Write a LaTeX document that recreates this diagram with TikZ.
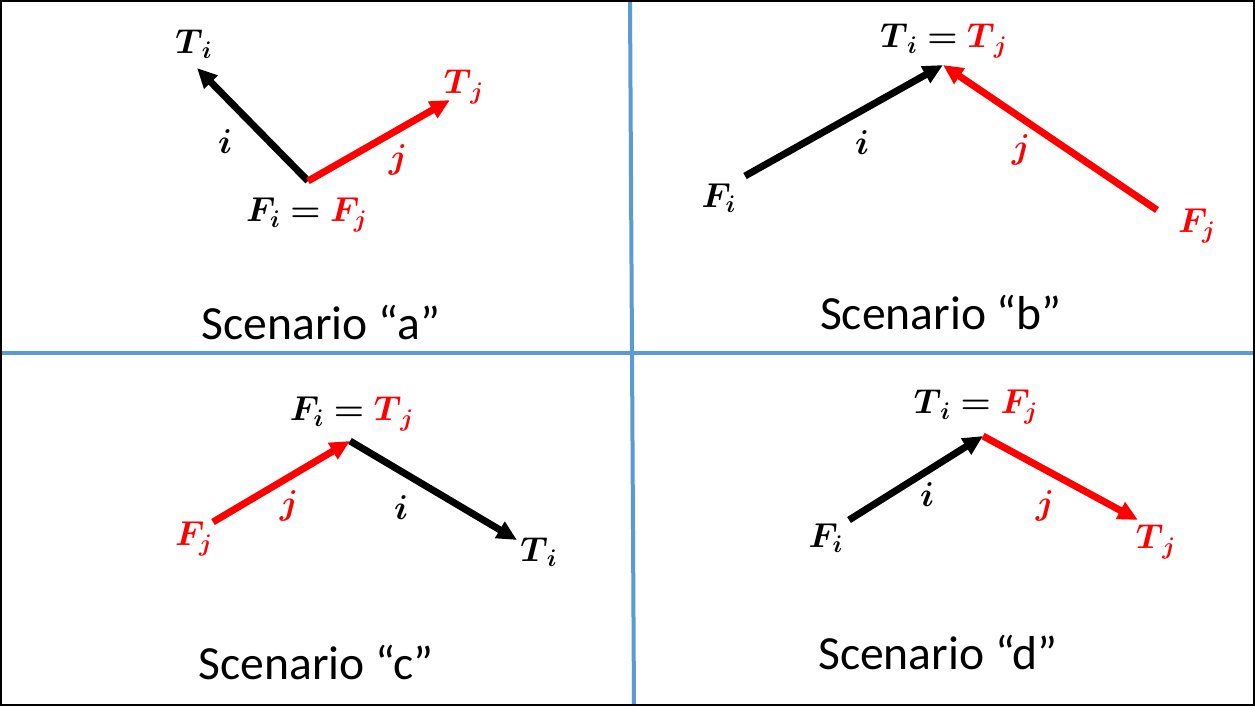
\documentclass[tikz,border=0pt]{standalone}
\usepackage{amsmath}
\usepackage{bm}
\usepackage{fontspec}
\setmainfont{Carlito}
\DeclareMathSizes{17}{17}{12.5}{10}
\usetikzlibrary{arrows.meta}
\definecolor{divblue}{RGB}{91,155,213}
\definecolor{vred}{RGB}{255,0,0}
\tikzset{
  vec/.style={line width=3.5pt, -{Triangle[length=10pt,width=9pt]}},
  blk/.style={vec, black},
  rd/.style={vec, vred},
  mlab/.style={font=\fontsize{17}{19}\selectfont, inner sep=0pt},
  scen/.style={font=\fontsize{23.8}{27}\selectfont, inner sep=0pt},
  divider/.style={divblue, line width=2pt}
}
\begin{document}
\begin{tikzpicture}[x=0.5pt,y=-0.5pt]
\useasboundingbox (0,0) rectangle (1255,706);
\fill[white] (0,0) rectangle (1255,706);
% frame and dividers
\coordinate (vt) at (630,0);
\coordinate (vb) at (634,706);
\coordinate (hl) at (2,353);
\coordinate (hr) at (1253,353);
\draw[divider] (vt) -- (vb);
\draw[divider] (hl) -- (hr);
\draw[black, line width=1pt] (1,1) rectangle (1254,705);

% Scenario a
\coordinate (aF) at (308,181);
\coordinate (aTi) at (197,68);
\coordinate (aTj) at (450,100);
\draw[blk] (aF) -- (aTi);
\draw[rd] (aF) -- (aTj);
\node[mlab] (aTiL) at (194,44) {$\bm{T_{\,i}}$};
\node[mlab] (aTjL) at (464,87) {\color{vred}$\bm{T_{\,j}}$};
\node[mlab] (ai) at (225,142) {$\bm{i}$};
\node[mlab] (aj) at (398,160) {\color{vred}$\bm{j}$};
\node[mlab] (aFL) at (307,215) {$\bm{F_i} \bm{=} \color{vred}\bm{F_j}$};
\node[scen] (sa) at (321,323) {Scenario “a”};

% Scenario b
\coordinate (bFi) at (745,176);
\coordinate (bT) at (943,65);
\coordinate (bFj) at (1157,210);
\draw[blk] (bFi) -- (bT);
\draw[rd] (bFj) -- (bT);
\node[mlab] (bTL) at (944,41) {$\bm{T_{\,i}} \bm{=} \color{vred}\bm{T_{\,j}}$};
\node[mlab] (bFiL) at (719,198) {$\bm{F_i}$};
\node[mlab] (bFjL) at (1197,226) {\color{vred}$\bm{F_j}$};
\node[mlab] (bi) at (862,143) {$\bm{i}$};
\node[mlab] (bj) at (1021,150) {\color{vred}$\bm{j}$};
\node[scen] (sb) at (941,313) {Scenario “b”};

% Scenario c
\coordinate (cFj) at (213,522);
\coordinate (cM) at (350,441);
\coordinate (cTi) at (517,540);
\draw[rd] (cFj) -- (cM);
\draw[blk] (cM) -- (cTi);
\node[mlab] (cML) at (352,414) {$\bm{F_i} \bm{=} \color{vred}\bm{T_{\,j}}$};
\node[mlab] (cFjL) at (194,539) {\color{vred}$\bm{F_j}$};
\node[mlab] (cTiL) at (539,552) {$\bm{T_{\,i}}$};
\node[mlab] (cj) at (289,506) {\color{vred}$\bm{j}$};
\node[mlab] (ci) at (401,508) {$\bm{i}$};
\node[scen] (sc) at (316,663) {Scenario “c”};

% Scenario d
\coordinate (dFi) at (849,520);
\coordinate (dM) at (983,436);
\coordinate (dTj) at (1138,520);
\draw[blk] (dFi) -- (dM);
\draw[rd] (dM) -- (dTj);
\node[mlab] (dML) at (976,407) {$\bm{T_{\,i}} \bm{=} \color{vred}\bm{F_j}$};
\node[mlab] (dFiL) at (826,538) {$\bm{F_i}$};
\node[mlab] (dTjL) at (1156,542) {\color{vred}$\bm{T_{\,j}}$};
\node[mlab] (di) at (927,495) {$\bm{i}$};
\node[mlab] (dj) at (1045,506) {\color{vred}$\bm{j}$};
\node[scen] (sd) at (938,653) {Scenario “d”};
\end{tikzpicture}
\end{document}
